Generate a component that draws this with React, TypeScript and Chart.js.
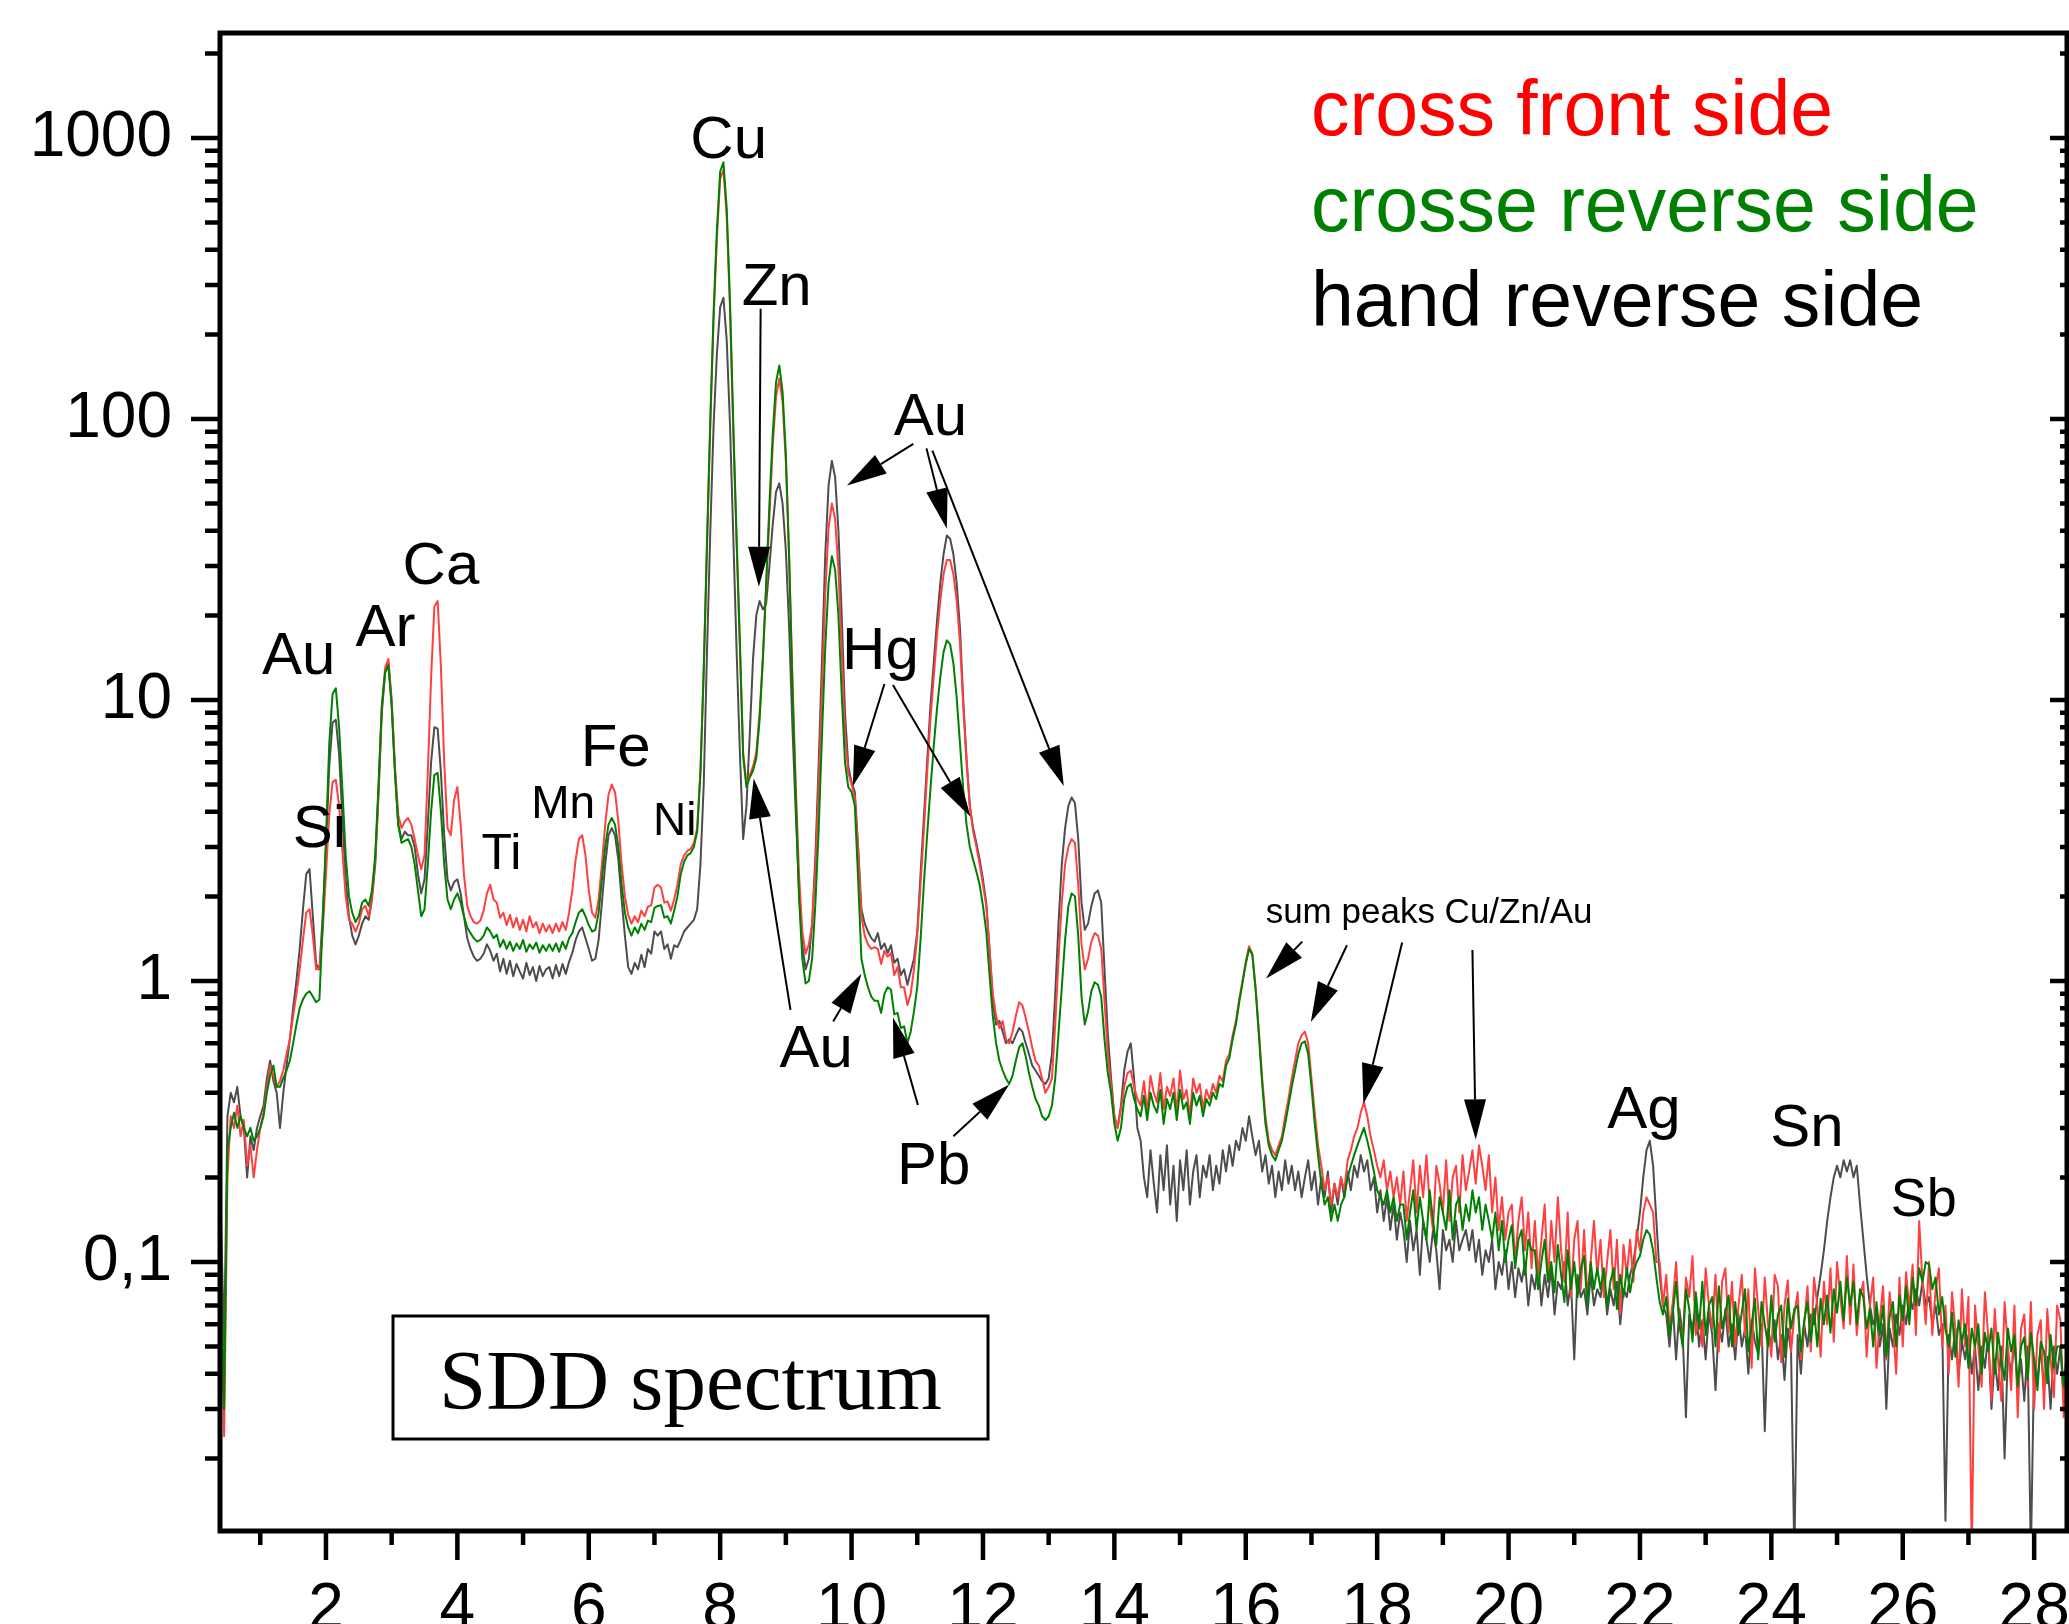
import React, { useEffect, useRef } from "react";
import { Chart, registerables } from "chart.js";

Chart.register(...registerables);

// ---------- data (energy in keV, intensity in counts) ----------
const energy = [
  0.4,0.45,0.5,0.55,0.6,0.65,0.7,0.75,0.8,0.85,0.9,0.95,1,1.05,1.1,1.15,1.2,1.25,1.3,1.35,
  1.4,1.45,1.5,1.55,1.6,1.65,1.7,1.75,1.8,1.85,1.9,1.95,2,2.05,2.1,2.15,2.2,2.25,2.3,2.35,
  2.4,2.45,2.5,2.55,2.6,2.65,2.7,2.75,2.8,2.85,2.9,2.95,3,3.05,3.1,3.15,3.2,3.25,3.3,3.35,
  3.4,3.45,3.5,3.55,3.6,3.65,3.7,3.75,3.8,3.85,3.9,3.95,4,4.05,4.1,4.15,4.2,4.25,4.3,4.35,
  4.4,4.45,4.5,4.55,4.6,4.65,4.7,4.75,4.8,4.85,4.9,4.95,5,5.05,5.1,5.15,5.2,5.25,5.3,5.35,
  5.4,5.45,5.5,5.55,5.6,5.65,5.7,5.75,5.8,5.85,5.9,5.95,6,6.05,6.1,6.15,6.2,6.25,6.3,6.35,
  6.4,6.45,6.5,6.55,6.6,6.65,6.7,6.75,6.8,6.85,6.9,6.95,7,7.05,7.1,7.15,7.2,7.25,7.3,7.35,
  7.4,7.45,7.5,7.55,7.6,7.65,7.7,7.75,7.8,7.85,7.9,7.95,8,8.05,8.1,8.15,8.2,8.25,8.3,8.35,
  8.4,8.45,8.5,8.55,8.6,8.65,8.7,8.75,8.8,8.85,8.9,8.95,9,9.05,9.1,9.15,9.2,9.25,9.3,9.35,
  9.4,9.45,9.5,9.55,9.6,9.65,9.7,9.75,9.8,9.85,9.9,9.95,10,10.05,10.1,10.15,10.2,10.25,10.3,10.35,
  10.4,10.45,10.5,10.55,10.6,10.65,10.7,10.75,10.8,10.85,10.9,10.95,11,11.05,11.1,11.15,11.2,11.25,11.3,11.35,
  11.4,11.45,11.5,11.55,11.6,11.65,11.7,11.75,11.8,11.85,11.9,11.95,12,12.05,12.1,12.15,12.2,12.25,12.3,12.35,
  12.4,12.45,12.5,12.55,12.6,12.65,12.7,12.75,12.8,12.85,12.9,12.95,13,13.05,13.1,13.15,13.2,13.25,13.3,13.35,
  13.4,13.45,13.5,13.55,13.6,13.65,13.7,13.75,13.8,13.85,13.9,13.95,14,14.05,14.1,14.15,14.2,14.25,14.3,14.35,
  14.4,14.45,14.5,14.55,14.6,14.65,14.7,14.75,14.8,14.85,14.9,14.95,15,15.05,15.1,15.15,15.2,15.25,15.3,15.35,
  15.4,15.45,15.5,15.55,15.6,15.65,15.7,15.75,15.8,15.85,15.9,15.95,16,16.05,16.1,16.15,16.2,16.25,16.3,16.35,
  16.4,16.45,16.5,16.55,16.6,16.65,16.7,16.75,16.8,16.85,16.9,16.95,17,17.05,17.1,17.15,17.2,17.25,17.3,17.35,
  17.4,17.45,17.5,17.55,17.6,17.65,17.7,17.75,17.8,17.85,17.9,17.95,18,18.05,18.1,18.15,18.2,18.25,18.3,18.35,
  18.4,18.45,18.5,18.55,18.6,18.65,18.7,18.75,18.8,18.85,18.9,18.95,19,19.05,19.1,19.15,19.2,19.25,19.3,19.35,
  19.4,19.45,19.5,19.55,19.6,19.65,19.7,19.75,19.8,19.85,19.9,19.95,20,20.05,20.1,20.15,20.2,20.25,20.3,20.35,
  20.4,20.45,20.5,20.55,20.6,20.65,20.7,20.75,20.8,20.85,20.9,20.95,21,21.05,21.1,21.15,21.2,21.25,21.3,21.35,
  21.4,21.45,21.5,21.55,21.6,21.65,21.7,21.75,21.8,21.85,21.9,21.95,22,22.05,22.1,22.15,22.2,22.25,22.3,22.35,
  22.4,22.45,22.5,22.55,22.6,22.65,22.7,22.75,22.8,22.85,22.9,22.95,23,23.05,23.1,23.15,23.2,23.25,23.3,23.35,
  23.4,23.45,23.5,23.55,23.6,23.65,23.7,23.75,23.8,23.85,23.9,23.95,24,24.05,24.1,24.15,24.2,24.25,24.3,24.35,
  24.4,24.45,24.5,24.55,24.6,24.65,24.7,24.75,24.8,24.85,24.9,24.95,25,25.05,25.1,25.15,25.2,25.25,25.3,25.35,
  25.4,25.45,25.5,25.55,25.6,25.65,25.7,25.75,25.8,25.85,25.9,25.95,26,26.05,26.1,26.15,26.2,26.25,26.3,26.35,
  26.4,26.45,26.5,26.55,26.6,26.65,26.7,26.75,26.8,26.85,26.9,26.95,27,27.05,27.1,27.15,27.2,27.25,27.3,27.35,
  27.4,27.45,27.5,27.55,27.6,27.65,27.7,27.75,27.8,27.85,27.9,27.95,28,28.05,28.1,28.15,28.2,28.25,28.3,28.35,
  28.4,28.45,28.5,
];

const crossFront = [
  0.1,0.024,0.2,0.33,0.3,0.36,0.28,0.32,0.22,0.26,0.2,0.25,0.3,0.34,0.42,0.5,0.46,0.42,0.44,0.48,
  0.55,0.62,0.75,0.9,1.1,1.4,1.75,1.8,1.45,1.1,1.1,1.5,2.4,3.9,5.1,5.2,4.2,2.9,2,1.65,
  1.6,1.5,1.6,1.8,1.85,1.7,2,2.7,4.8,9.5,13,14,10,5.8,3.9,3.5,3.7,3.8,3.6,3.2,
  2.8,2.5,2.8,5.5,12,21.5,22.5,13,6,3.5,3.3,4.4,4.9,3.6,2.4,1.85,1.7,1.62,1.6,1.64,
  1.78,2.05,2.2,1.95,1.9,1.68,1.75,1.58,1.72,1.55,1.68,1.52,1.65,1.5,1.7,1.55,1.62,1.48,1.6,1.5,
  1.58,1.48,1.6,1.5,1.62,1.52,1.75,2.1,2.7,3.2,3.3,2.8,2.1,1.75,1.68,1.95,2.6,3.6,4.6,5,
  4.7,3.7,2.6,2,1.72,1.6,1.7,1.62,1.78,1.7,1.84,1.86,2.15,2.2,2.15,1.9,1.92,1.78,1.95,2.2,
  2.6,2.8,2.9,2.95,3.1,3.5,5.6,12.5,35,95,225,440,715,770,525,245,90,36,15.5,6.5,
  5,5.4,5.8,6.5,9,14,25,45,80,120,139,115,70,32,12,5,2.4,1.5,1.25,1.35,
  1.6,2.5,5,11,24,41,50,44,29,15,7.5,5.5,5,4.5,2.9,1.7,1.45,1.35,1.3,1.32,
  1.3,1.15,1.28,1.22,1.26,1.05,1.12,0.95,0.95,0.82,0.9,1.1,1.45,2.2,3.4,5.5,8.5,12,17,22.5,
  28,31.5,31.5,28,22.5,16,9.5,6,4.2,3.4,3,2.6,2.2,1.85,1.3,0.9,0.75,0.68,0.72,0.62,
  0.6,0.66,0.75,0.84,0.82,0.74,0.66,0.58,0.52,0.5,0.45,0.4,0.42,0.45,0.7,1.2,1.9,2.6,3,3.2,
  3.1,2.2,1.35,1.1,1.2,1.38,1.48,1.45,1.3,0.85,0.55,0.42,0.33,0.3,0.35,0.42,0.47,0.48,0.42,0.38,
  0.36,0.44,0.34,0.46,0.4,0.37,0.47,0.35,0.42,0.39,0.45,0.34,0.48,0.38,0.41,0.33,0.45,0.4,0.43,0.35,
  0.41,0.38,0.43,0.4,0.46,0.44,0.52,0.55,0.64,0.72,0.86,1,1.17,1.33,1.25,0.95,0.66,0.45,0.33,0.27,
  0.25,0.24,0.26,0.28,0.33,0.38,0.45,0.52,0.6,0.64,0.66,0.6,0.45,0.34,0.26,0.22,0.18,0.2,0.16,0.19,
  0.17,0.2,0.18,0.23,0.25,0.28,0.3,0.34,0.37,0.33,0.28,0.25,0.22,0.2,0.23,0.18,0.21,0.17,0.2,0.16,
  0.21,0.14,0.18,0.23,0.15,0.22,0.17,0.24,0.16,0.13,0.22,0.19,0.15,0.23,0.14,0.2,0.22,0.15,0.24,0.18,
  0.21,0.25,0.19,0.26,0.22,0.18,0.24,0.15,0.2,0.13,0.17,0.12,0.15,0.16,0.1,0.14,0.17,0.11,0.15,0.095,
  0.14,0.09,0.12,0.16,0.085,0.14,0.1,0.17,0.11,0.085,0.15,0.075,0.12,0.14,0.08,0.13,0.075,0.1,0.14,0.09,
  0.12,0.075,0.1,0.13,0.08,0.12,0.065,0.115,0.09,0.12,0.085,0.13,0.11,0.15,0.17,0.16,0.15,0.1,0.1,0.07,
  0.09,0.058,0.072,0.1,0.06,0.052,0.088,0.075,0.105,0.055,0.065,0.05,0.095,0.07,0.058,0.09,0.048,0.085,0.095,0.056,
  0.085,0.05,0.07,0.09,0.055,0.08,0.042,0.095,0.068,0.05,0.088,0.06,0.046,0.09,0.082,0.044,0.07,0.086,0.048,0.065,
  0.078,0.045,0.06,0.082,0.048,0.088,0.07,0.046,0.085,0.06,0.095,0.052,0.1,0.075,0.058,0.105,0.06,0.098,0.055,0.075,
  0.085,0.046,0.07,0.088,0.042,0.062,0.082,0.045,0.078,0.06,0.04,0.088,0.05,0.092,0.068,0.098,0.055,0.14,0.085,0.06,
  0.1,0.055,0.08,0.095,0.05,0.07,0.04,0.078,0.058,0.036,0.08,0.05,0.075,0.009,0.07,0.05,0.036,0.078,0.055,0.032,
  0.068,0.045,0.032,0.072,0.05,0.035,0.07,0.028,0.058,0.065,0.036,0.072,0.03,0.055,0.062,0.03,0.068,0.045,0.033,0.07,
  0.062,0.028,0.055,
];

const crosseReverse = [
  0.1,0.03,0.25,0.3,0.34,0.3,0.33,0.3,0.28,0.3,0.27,0.28,0.3,0.33,0.4,0.46,0.5,0.42,0.42,0.45,
  0.48,0.52,0.6,0.7,0.8,0.86,0.9,0.92,0.88,0.84,0.86,1.6,3.2,7,10.5,11,8,4.8,2.8,2,
  1.75,1.62,1.7,1.9,1.95,1.85,2.1,2.8,5,9.5,12.5,13.3,9.5,5.5,3.6,3.1,3.15,3.2,3,2.6,
  2.1,1.7,1.8,2.6,4,5.4,5.5,4,2.6,1.95,1.8,1.95,2.05,1.9,1.7,1.55,1.48,1.42,1.38,1.4,
  1.45,1.55,1.5,1.42,1.46,1.32,1.4,1.3,1.38,1.28,1.36,1.3,1.4,1.27,1.35,1.3,1.37,1.26,1.34,1.28,
  1.35,1.28,1.36,1.27,1.38,1.3,1.42,1.48,1.62,1.75,1.8,1.7,1.58,1.5,1.52,1.75,2.3,3,3.6,3.8,
  3.6,3,2.2,1.75,1.55,1.45,1.55,1.48,1.6,1.52,1.64,1.62,1.82,1.85,1.86,1.68,1.7,1.6,1.78,2,
  2.4,2.65,2.8,2.85,3,3.4,5.5,13,37,100,240,470,760,820,560,260,95,38,16,6.3,
  4.9,5.3,5.6,6.2,8.5,14,26,50,88,135,155,125,75,32,11,4.5,2,1.2,0.98,1,
  1.2,1.9,3.5,7.5,15.5,26,32.5,29,20,10.5,6,4.9,4.7,4.2,2.3,1.2,1.05,0.95,0.88,0.85,
  0.85,0.77,0.9,0.95,0.93,0.76,0.77,0.68,0.69,0.6,0.66,0.78,0.95,1.4,2.2,3.3,4.8,6.8,9.3,12,
  14.8,16.3,15.8,13.5,10.2,7,4.8,3.6,3,2.7,2.45,2.2,1.85,1.5,1.05,0.75,0.6,0.52,0.48,0.45,
  0.43,0.46,0.52,0.58,0.6,0.54,0.47,0.42,0.38,0.36,0.33,0.32,0.33,0.36,0.45,0.65,0.95,1.4,1.85,2.05,
  2,1.45,0.88,0.7,0.78,0.92,0.99,0.97,0.88,0.62,0.47,0.4,0.31,0.27,0.3,0.38,0.42,0.43,0.38,0.35,
  0.33,0.39,0.32,0.4,0.36,0.34,0.41,0.31,0.38,0.35,0.4,0.32,0.41,0.35,0.37,0.31,0.4,0.36,0.39,0.33,
  0.38,0.36,0.4,0.38,0.43,0.42,0.5,0.53,0.62,0.7,0.84,0.98,1.15,1.3,1.24,0.93,0.64,0.43,0.31,0.26,
  0.24,0.23,0.25,0.27,0.31,0.36,0.42,0.48,0.55,0.6,0.61,0.55,0.42,0.31,0.24,0.19,0.16,0.17,0.14,0.16,
  0.14,0.16,0.17,0.2,0.22,0.24,0.26,0.28,0.3,0.27,0.24,0.21,0.18,0.17,0.16,0.18,0.15,0.17,0.14,0.16,
  0.16,0.12,0.15,0.18,0.13,0.17,0.14,0.12,0.18,0.14,0.115,0.17,0.15,0.13,0.18,0.12,0.16,0.17,0.13,0.16,
  0.14,0.18,0.15,0.17,0.13,0.16,0.14,0.12,0.15,0.11,0.14,0.1,0.12,0.135,0.095,0.12,0.13,0.09,0.12,0.11,
  0.11,0.08,0.1,0.12,0.085,0.1,0.078,0.115,0.09,0.072,0.11,0.08,0.1,0.075,0.095,0.105,0.07,0.1,0.08,0.095,
  0.08,0.095,0.07,0.085,0.095,0.068,0.09,0.075,0.095,0.078,0.092,0.1,0.105,0.12,0.13,0.125,0.11,0.088,0.072,0.065,
  0.075,0.055,0.066,0.085,0.06,0.05,0.08,0.068,0.052,0.078,0.058,0.085,0.055,0.07,0.075,0.05,0.082,0.058,0.066,0.076,
  0.05,0.072,0.055,0.066,0.08,0.048,0.06,0.074,0.045,0.072,0.06,0.05,0.076,0.052,0.065,0.07,0.046,0.074,0.058,0.068,
  0.07,0.048,0.062,0.072,0.052,0.068,0.05,0.074,0.06,0.076,0.056,0.08,0.066,0.085,0.062,0.088,0.07,0.085,0.06,0.08,
  0.075,0.058,0.068,0.05,0.072,0.055,0.07,0.046,0.064,0.072,0.05,0.076,0.062,0.082,0.06,0.088,0.07,0.095,0.085,0.1,
  0.098,0.08,0.088,0.065,0.075,0.058,0.05,0.066,0.046,0.062,0.052,0.06,0.042,0.058,0.05,0.06,0.04,0.056,0.048,0.058,
  0.04,0.056,0.045,0.038,0.058,0.048,0.055,0.036,0.05,0.054,0.038,0.056,0.045,0.035,0.052,0.048,0.037,0.055,0.042,0.05,
  0.05,0.036,0.048,
];

const handReverse = [
  0.15,0.05,0.33,0.4,0.37,0.42,0.33,0.3,0.2,0.28,0.25,0.3,0.33,0.36,0.45,0.52,0.44,0.4,0.3,0.4,
  0.5,0.62,0.8,1,1.3,1.8,2.4,2.5,1.7,1.15,1.1,1.7,3,5.8,8.3,8.5,6.4,3.8,2.3,1.7,
  1.45,1.35,1.45,1.6,1.7,1.65,1.95,2.6,4.6,9,12.5,13.5,9.8,5.6,3.6,3.2,3.4,3.3,3.3,3,
  2.4,2.05,2.3,3.6,6,8,7.9,5.5,3.3,2.3,2.1,2.25,2.3,2.05,1.7,1.42,1.3,1.22,1.18,1.2,
  1.25,1.35,1.28,1.18,1.25,1.08,1.2,1.06,1.18,1.04,1.15,1.08,1.02,1.16,1.05,1.12,1,1.13,1.04,1.1,
  1.12,1.02,1.14,1.04,1.15,1.06,1.17,1.26,1.4,1.5,1.55,1.42,1.3,1.18,1.2,1.4,1.9,2.6,3.3,3.5,
  3.3,2.7,1.95,1.45,1.12,1.06,1.16,1.1,1.24,1.12,1.3,1.25,1.5,1.45,1.5,1.3,1.35,1.2,1.34,1.32,
  1.4,1.5,1.55,1.6,1.65,1.8,2.6,5,15,40,95,170,250,270,190,95,38,15,6.5,3.2,
  4.2,7.5,14,20,22.5,21,22,30,42,55,59,50,34,18,8,4,2.1,1.35,1.1,1.2,
  1.6,2.8,6,14,33,58,71,62,40,20,9,5.8,5.1,4.7,3,1.8,1.6,1.5,1.42,1.38,
  1.48,1.3,1.36,1.26,1.34,1.16,1.2,1.05,1.1,0.97,1.08,1.2,1.5,2.4,3.8,6,9.5,13.5,19,26,
  33,38.5,37.5,33,26,18,10,6.2,4.2,3.5,3.1,2.7,2.3,1.9,1.3,0.85,0.7,0.72,0.66,0.6,
  0.62,0.6,0.64,0.68,0.66,0.6,0.55,0.5,0.48,0.46,0.44,0.43,0.45,0.55,0.9,1.6,2.6,3.5,4.2,4.5,
  4.3,3.2,1.9,1.52,1.6,1.85,2.05,2.1,1.9,1.1,0.65,0.45,0.33,0.3,0.36,0.48,0.56,0.6,0.45,0.3,
  0.27,0.2,0.17,0.25,0.19,0.15,0.24,0.18,0.26,0.16,0.22,0.14,0.23,0.18,0.25,0.16,0.21,0.24,0.17,0.22,
  0.2,0.24,0.18,0.22,0.19,0.25,0.21,0.26,0.22,0.27,0.25,0.3,0.27,0.33,0.28,0.24,0.27,0.21,0.24,0.19,
  0.22,0.17,0.21,0.18,0.23,0.19,0.22,0.18,0.21,0.17,0.2,0.23,0.18,0.21,0.16,0.2,0.17,0.21,0.15,0.19,
  0.16,0.2,0.17,0.21,0.18,0.22,0.2,0.24,0.21,0.23,0.18,0.2,0.15,0.18,0.14,0.17,0.13,0.16,0.12,0.15,
  0.13,0.1,0.14,0.11,0.13,0.09,0.14,0.12,0.1,0.13,0.11,0.08,0.13,0.11,0.12,0.1,0.14,0.11,0.12,0.13,
  0.11,0.13,0.1,0.12,0.09,0.11,0.1,0.12,0.08,0.1,0.09,0.11,0.08,0.1,0.075,0.095,0.085,0.1,0.07,0.09,
  0.08,0.1,0.07,0.09,0.075,0.095,0.065,0.085,0.08,0.1,0.07,0.085,0.045,0.09,0.075,0.08,0.065,0.09,0.07,0.08,
  0.075,0.09,0.065,0.08,0.07,0.085,0.06,0.08,0.075,0.09,0.1,0.12,0.15,0.2,0.25,0.27,0.22,0.14,0.09,0.07,
  0.065,0.05,0.07,0.045,0.068,0.055,0.028,0.065,0.058,0.07,0.05,0.062,0.045,0.066,0.055,0.035,0.06,0.052,0.068,0.05,
  0.06,0.045,0.065,0.05,0.058,0.04,0.062,0.052,0.047,0.06,0.025,0.058,0.05,0.062,0.045,0.055,0.038,0.058,0.048,0.009,
  0.055,0.04,0.06,0.05,0.065,0.06,0.075,0.09,0.11,0.14,0.17,0.2,0.22,0.2,0.23,0.21,0.23,0.2,0.22,0.16,
  0.12,0.09,0.07,0.06,0.065,0.05,0.06,0.03,0.058,0.05,0.065,0.055,0.07,0.06,0.075,0.068,0.08,0.07,0.085,0.07,
  0.075,0.06,0.07,0.055,0.06,0.012,0.055,0.045,0.058,0.04,0.052,0.045,0.055,0.04,0.05,0.035,0.05,0.042,0.055,0.03,
  0.045,0.035,0.05,0.02,0.048,0.04,0.052,0.035,0.045,0.032,0.05,0.009,0.045,0.038,0.05,0.035,0.046,0.03,0.05,0.04,
  0.05,0.032,0.045,
];

const seriesNames = ["cross front side", "crosse reverse side", "hand reverse side"];

const xTickValues = [2, 4, 6, 8, 10, 12, 14, 16, 18, 20, 22, 24, 26, 28];
const xTickLabels = ["2", "4", "6", "8", "10", "12", "14", "16", "18", "20", "22", "24", "26", "28"];
const yTickValues = [0.1, 1, 10, 100, 1000];
const yTickLabels = ["0,1", "1", "10", "100", "1000"];

// element labels anchored in data coordinates (keV, counts) - text centre / baseline
const peakLabels = [
  { text: "Si", x: 1.9, y: 3.01, kind: "big" },
  { text: "Au", x: 1.585, y: 12.4, kind: "big" },
  { text: "Ar", x: 2.906, y: 15.6, kind: "big" },
  { text: "Ca", x: 3.75, y: 25.8, kind: "big" },
  { text: "Ti", x: 4.67, y: 2.5, kind: "mid" },
  { text: "Mn", x: 5.61, y: 3.81, kind: "small" },
  { text: "Fe", x: 6.41, y: 5.82, kind: "big" },
  { text: "Ni", x: 7.31, y: 3.31, kind: "small" },
  { text: "Cu", x: 8.13, y: 849, kind: "big" },
  { text: "Zn", x: 8.86, y: 254, kind: "big" },
  { text: "Au", x: 11.2, y: 87.8, kind: "big" },
  { text: "Hg", x: 10.44, y: 12.9, kind: "big" },
  { text: "Au", x: 9.46, y: 0.493, kind: "big" },
  { text: "Pb", x: 11.25, y: 0.19, kind: "big" },
  { text: "sum peaks Cu/Zn/Au", x: 18.79, y: 1.61, kind: "tiny" },
  { text: "Ag", x: 22.06, y: 0.3, kind: "big" },
  { text: "Sn", x: 24.54, y: 0.259, kind: "big" },
  { text: "Sb", x: 26.32, y: 0.146, kind: "sb" },
];

// arrows: [fromKeV, fromCounts] -> [toKeV, toCounts]
const arrows = [
  { from: [8.616, 247], to: [8.589, 25.3] },
  { from: [10.94, 81.6], to: [9.93, 58] },
  { from: [11.14, 78.6], to: [11.45, 40.7] },
  { from: [11.23, 77.2], to: [13.23, 4.94] },
  { from: [10.5, 11.4], to: [10.02, 4.94] },
  { from: [10.63, 11.3], to: [11.81, 3.84] },
  { from: [9.07, 0.789], to: [8.51, 5.26] },
  { from: [9.72, 0.718], to: [10.15, 1.06] },
  { from: [11.01, 0.362], to: [10.63, 0.741] },
  { from: [11.55, 0.28], to: [12.4, 0.428] },
  { from: [16.86, 1.38], to: [16.31, 1.02] },
  { from: [17.54, 1.34], to: [16.99, 0.715] },
  { from: [18.38, 1.37], to: [17.79, 0.366] },
  { from: [19.45, 1.29], to: [19.5, 0.273] },
];

// ---------- styling ----------
const SANS = '"Liberation Sans", Arial, Helvetica, sans-serif';
const SERIF = '"Liberation Serif", "Times New Roman", serif';
const W = 2069;
const H = 1624;
const X_MIN = 0.387;
const X_MAX = 28.5;
const Y_MIN = 0.01103;
const Y_MAX = 2364;
const lineColors = ["#ff4040", "#008000", "#4d4d4d"];
const legendColors = ["#ff0000", "#008000", "#000000"];
const labelSizes: Record<string, number> = { big: 60, mid: 50, small: 46, sb: 54, tiny: 35 };

function drawArrow(ctx: CanvasRenderingContext2D, x1: number, y1: number, x2: number, y2: number) {
  const head = 40;
  const half = 11;
  const ang = Math.atan2(y2 - y1, x2 - x1);
  const bx = x2 - head * Math.cos(ang);
  const by = y2 - head * Math.sin(ang);
  ctx.beginPath();
  ctx.moveTo(x1, y1);
  ctx.lineTo(bx, by);
  ctx.stroke();
  ctx.beginPath();
  ctx.moveTo(x2, y2);
  ctx.lineTo(bx + half * Math.sin(ang), by - half * Math.cos(ang));
  ctx.lineTo(bx - half * Math.sin(ang), by + half * Math.cos(ang));
  ctx.closePath();
  ctx.fill();
}

const overlayPlugin = {
  id: "overlay",
  afterDraw(chart: any) {
    const { ctx, chartArea: a } = chart;
    const xs = chart.scales.x;
    const ys = chart.scales.y;
    const px = (v: number) => xs.getPixelForValue(v);
    const py = (v: number) => ys.getPixelForValue(v);
    ctx.save();
    ctx.strokeStyle = "#000";
    ctx.fillStyle = "#000";

    // tick marks
    ctx.lineWidth = 4.5;
    ctx.lineCap = "butt";
    ctx.beginPath();
    for (let e = -2; e <= 3; e++) {
      for (let m = 1; m <= 9; m++) {
        const v = m * Math.pow(10, e);
        if (v < Y_MIN || v > Y_MAX) continue;
        const p = py(v);
        const major = m === 1;
        ctx.moveTo(a.left, p);
        ctx.lineTo(a.left - (major ? 29 : 15), p);
        ctx.moveTo(a.right, p);
        ctx.lineTo(a.right - (major ? 17 : 7), p);
      }
    }
    for (let v = 1; v <= 28; v++) {
      const p = px(v);
      if (p < a.left || p > a.right) continue;
      ctx.moveTo(p, a.bottom);
      ctx.lineTo(p, a.bottom + (v % 2 === 0 ? 29 : 14));
    }
    ctx.stroke();

    // frame
    ctx.lineWidth = 5;
    ctx.strokeRect(a.left, a.top, a.right - a.left, a.bottom - a.top);

    // element labels
    ctx.textAlign = "center";
    ctx.textBaseline = "alphabetic";
    for (const l of peakLabels) {
      ctx.font = `${labelSizes[l.kind]}px ${SANS}`;
      ctx.fillText(l.text, px(l.x), py(l.y));
    }

    // arrows
    ctx.lineWidth = 2;
    for (const ar of arrows) {
      drawArrow(ctx, px(ar.from[0]), py(ar.from[1]), px(ar.to[0]), py(ar.to[1]));
    }

    // legend (text only, coloured)
    ctx.textAlign = "left";
    ctx.font = `77px ${SANS}`;
    seriesNames.forEach((n, i) => {
      ctx.fillStyle = legendColors[i];
      ctx.fillText(n, a.left + 1091, a.top + 102 + i * 95.5);
    });

    // SDD spectrum box
    ctx.fillStyle = "#000";
    ctx.lineWidth = 3;
    const bx = a.left + 173;
    const by = a.top + 1283;
    ctx.strokeRect(bx, by, 595, 123);
    ctx.textAlign = "center";
    ctx.font = `85px ${SERIF}`;
    ctx.fillText("SDD spectrum", bx + 297.5, a.top + 1376);

    ctx.restore();
  },
};

export default function App() {
  const ref = useRef<HTMLCanvasElement | null>(null);

  useEffect(() => {
    document.body.style.margin = "0";
    document.body.style.overflow = "hidden";
    const canvas = ref.current;
    if (!canvas) return;

    const series = [crossFront, crosseReverse, handReverse];
    const orders = [2, 1, 3];
    const datasets = series.map((vals, i) => ({
      label: seriesNames[i],
      data: energy.map((e, k) => ({ x: e, y: vals[k] })),
      borderColor: lineColors[i],
      backgroundColor: lineColors[i],
      borderWidth: 2,
      pointRadius: 0,
      tension: 0,
      borderJoinStyle: "round" as const,
      order: orders[i],
    }));

    const chart = new Chart(canvas, {
      type: "line",
      data: { datasets },
      options: {
        animation: false,
        responsive: false,
        devicePixelRatio: 1,
        events: [],
        layout: { padding: { top: 33, right: 2, bottom: 0, left: 0 } },
        plugins: { legend: { display: false }, tooltip: { enabled: false }, title: { display: false } },
        scales: {
          x: {
            type: "linear",
            min: X_MIN,
            max: X_MAX,
            bounds: "data",
            grid: { display: false, drawTicks: false },
            border: { display: false },
            ticks: {
              color: "#000",
              font: { family: SANS, size: 64 },
              padding: 41,
              maxRotation: 0,
              minRotation: 0,
              autoSkip: false,
              callback: (_v: any, i: number) => xTickLabels[i],
            },
            afterBuildTicks: (s: any) => {
              s.ticks = xTickValues.map((v) => ({ value: v }));
            },
            afterFit: (s: any) => {
              s.height = H - 1531;
              s.paddingLeft = 0;
              s.paddingRight = 0;
            },
          },
          y: {
            type: "logarithmic",
            min: Y_MIN,
            max: Y_MAX,
            bounds: "data",
            grid: { display: false, drawTicks: false },
            border: { display: false },
            ticks: {
              color: "#000",
              font: { family: SANS, size: 64 },
              padding: 48,
              autoSkip: false,
              callback: (_v: any, i: number) => yTickLabels[i],
            },
            afterBuildTicks: (s: any) => {
              s.ticks = yTickValues.map((v) => ({ value: v }));
            },
            afterFit: (s: any) => {
              s.width = 220;
              s.paddingTop = 0;
              s.paddingBottom = 0;
            },
          },
        },
      } as any,
      plugins: [overlayPlugin],
    });

    return () => chart.destroy();
  }, []);

  return (
    <canvas
      ref={ref}
      width={W}
      height={H}
      style={{ display: "block", width: `${W}px`, height: `${H}px` }}
    />
  );
}
